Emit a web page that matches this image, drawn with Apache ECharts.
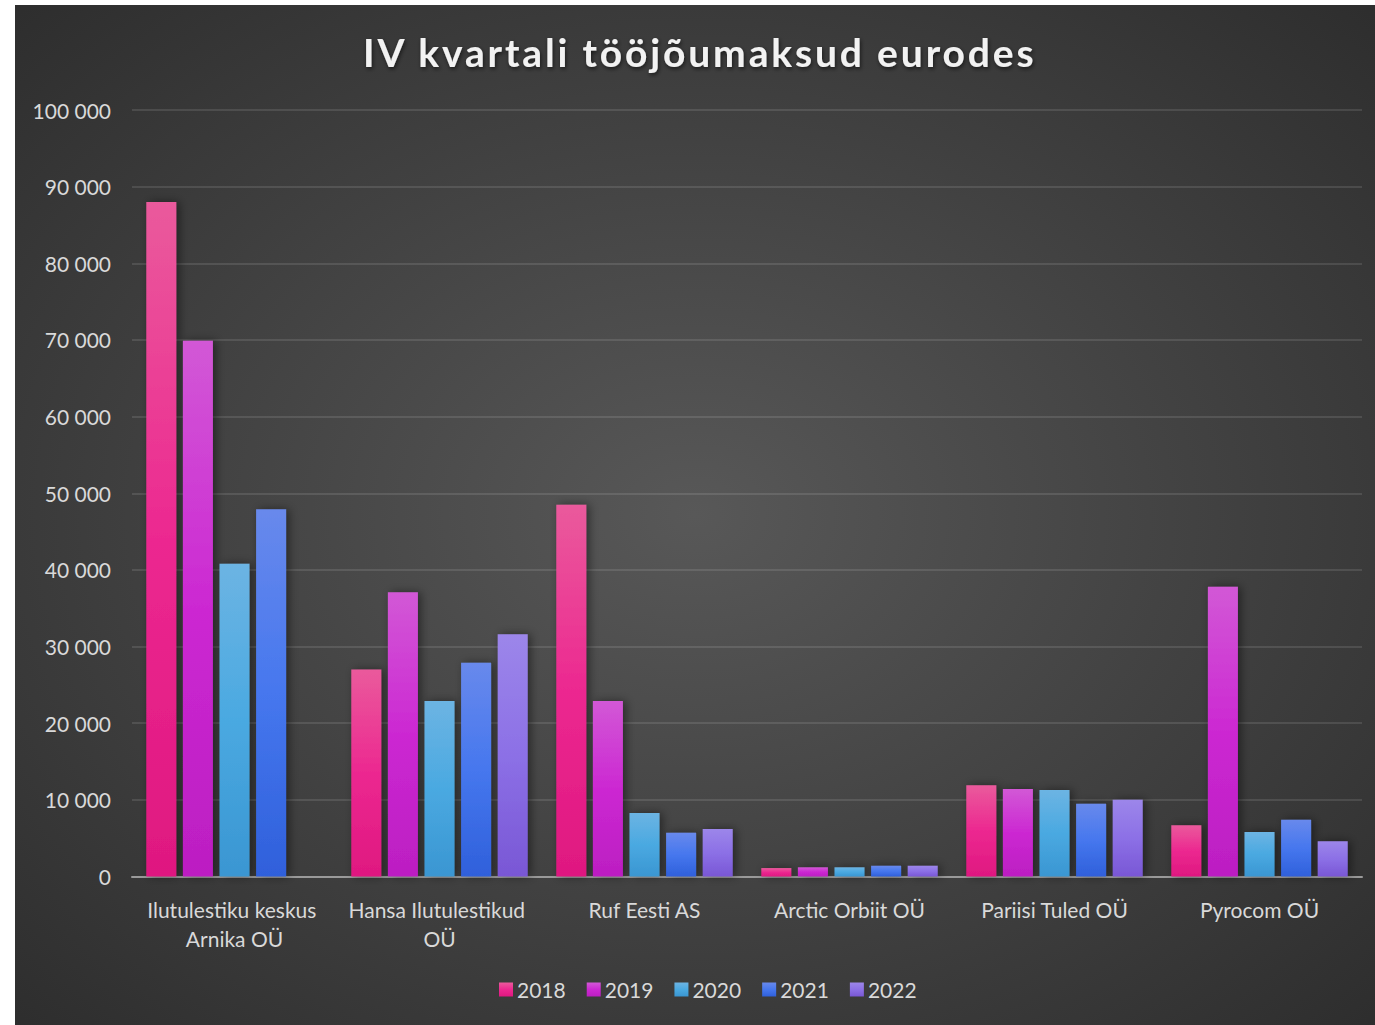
<!DOCTYPE html>
<html><head><meta charset="utf-8">
<script src="https://cdn.jsdelivr.net/npm/echarts@6/dist/echarts.min.js"></script>
<style>
html,body{margin:0;padding:0;background:#fff;width:1375px;height:1025px;overflow:hidden}
#c{position:absolute;left:15px;top:5px;width:1360px;height:1020px}
</style></head>
<body><div id="c"></div>
<script>
const categories = ['Ilutulestiku keskus Arnika OÜ', 'Hansa Ilutulestikud OÜ', 'Ruf Eesti AS', 'Arctic Orbiit OÜ', 'Pariisi Tuled OÜ', 'Pyrocom OÜ'];
const seriesNames = ['2018', '2019', '2020', '2021', '2022'];
const v2018 = [88000, 27000, 48500, 1100, 11900, 6700];
const v2019 = [69900, 37100, 22900, 1200, 11400, 37800];
const v2020 = [40800, 22900, 8300, 1200, 11300, 5800];
const v2021 = [47900, 27900, 5700, 1400, 9500, 7400];
const v2022 = [null, 31600, 6200, 1400, 10000, 4600];
const yTicks = { min: 0, max: 100000, interval: 10000 };
const titleText = 'IV kvartali tööjõumaksud eurodes';

const values = [v2018, v2019, v2020, v2021, v2022];
const gradStops = [
  ['#EA5A9C', '#EC2890', '#DF1880'],
  ['#D258D6', '#CC28D2', '#BC1EC2'],
  ['#6CB4E3', '#4AA9E1', '#3A96D2'],
  ['#6889EC', '#4677EE', '#2F60DB'],
  ['#9C86EA', '#8C70E6', '#7957D5']
];
const font = 'Lato, Carlito, "Open Sans", sans-serif';
function grad(c) {
  return { type: 'linear', x: 0, y: 0, x2: 0, y2: 1,
    colorStops: [{ offset: 0, color: c[0] }, { offset: 0.5, color: c[1] }, { offset: 1, color: c[2] }] };
}
const fmt = v => String(v).replace(/\B(?=(\d{3})+(?!\d))/g, ' ');

const chart = echarts.init(document.getElementById('c'), null, { renderer: 'svg' });
chart.setOption({
  animation: false,
  backgroundColor: { type: 'radial', x: 0.5, y: 0.5, r: 0.85,
    colorStops: [{ offset: 0, color: '#585858' }, { offset: 1, color: '#252525' }] },
  title: {
    text: titleText, left: 343, top: 22,
    textStyle: { color: '#F2F2F2', fontFamily: font, fontWeight: 'bold', fontSize: 39,
      textShadowColor: 'rgba(0,0,0,0.6)', textShadowBlur: 4, textShadowOffsetX: 1, textShadowOffsetY: 2 }
  },
  legend: {
    data: seriesNames, left: 484, top: 974, padding: 0, itemWidth: 14, itemHeight: 14, itemGap: 21,
    icon: 'rect',
    textStyle: { color: '#D9D9D9', fontFamily: font, fontSize: 21, padding: [0, 0, 0, -1] }
  },
  grid: { left: 117, right: 13, top: 105, bottom: 148.5, containLabel: false },
  xAxis: {
    type: 'category', data: categories,
    axisLine: { lineStyle: { color: '#9A9A9A', width: 2 } },
    axisTick: { show: false },
    axisLabel: { color: '#D9D9D9', fontFamily: font, fontSize: 21, margin: 18, lineHeight: 29,
      width: 196, overflow: 'break', interval: 0 }
  },
  yAxis: {
    type: 'value', min: yTicks.min, max: yTicks.max, interval: yTicks.interval,
    axisLine: { show: false }, axisTick: { show: false },
    axisLabel: { color: '#D9D9D9', fontFamily: font, fontSize: 21, margin: 21, formatter: fmt },
    splitLine: { lineStyle: { color: 'rgba(255,255,255,0.11)', width: 2 } }
  },
  series: seriesNames.map((n, i) => ({
    name: n, type: 'bar', data: values[i], barWidth: 30, barGap: '22%',
    itemStyle: { color: grad(gradStops[i]), shadowColor: 'rgba(0,0,0,0.45)', shadowBlur: 10, shadowOffsetX: 3, shadowOffsetY: 0 }
  }))
});
document.querySelectorAll('#c svg text').forEach(t => {
  if (t.textContent === titleText) t.style.letterSpacing = '2.85px';
});
</script></body></html>
